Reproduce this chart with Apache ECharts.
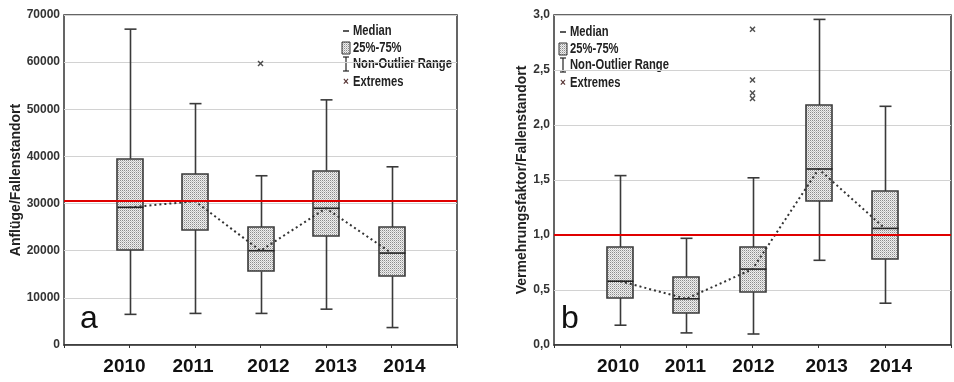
<!DOCTYPE html>
<html><head><meta charset="utf-8">
<script src="https://cdn.jsdelivr.net/npm/echarts@6/dist/echarts.min.js"></script>
<style>html,body{margin:0;padding:0;background:#fff}#c{width:954px;height:382px}</style>
</head><body><div id="c"></div>
<script>
// ---- data ----
const years = ['2010', '2011', '2012', '2013', '2014'];
// panel a: Anflüge/Fallenstandort
const aMin = [6500, 6700, 6700, 7600, 3700];
const aQ1  = [20200, 24400, 15600, 23100, 14600];
const aMed = [29200, 30500, 20000, 29000, 19500];
const aQ3  = [39500, 36200, 25000, 37000, 25000];
const aMax = [67000, 51200, 35900, 52000, 37800];
const aExtremes = [[2012, 59700]];
const aRef = 30700;
// panel b: Vermehrungsfaktor/Fallenstandort
const bMin = [0.18, 0.11, 0.10, 0.77, 0.38];
const bQ1  = [0.43, 0.29, 0.48, 1.31, 0.78];
const bMed = [0.58, 0.42, 0.69, 1.60, 1.06];
const bQ3  = [0.89, 0.62, 0.89, 2.18, 1.40];
const bMax = [1.54, 0.97, 1.52, 2.96, 2.17];
const bExtremes = [[2012, 2.87], [2012, 2.41], [2012, 2.29], [2012, 2.24]];
const bRef = 1.0;
const bTicks = ['0,0', '0,5', '1,0', '1,5', '2,0', '2,5', '3,0'];
const legendItems = ['Median', '25%-75%', 'Non-Outlier Range', 'Extremes'];
const panelLetters = ['a', 'b'];
const yNames = ['Anflüge/Fallenstandort', 'Vermehrungsfaktor/Fallenstandort'];

// ---- helpers ----
const cats = [''].concat(years, ['']);
const pat = document.createElement('canvas');
pat.width = 2; pat.height = 2;
(function(){const g = pat.getContext('2d');
  g.fillStyle = '#efefef'; g.fillRect(0,0,2,2);
  g.fillStyle = '#8c8c8c'; g.fillRect(0,0,1,1);
  g.fillStyle = '#c4c4c4'; g.fillRect(1,1,1,1);})();
const pattern = {image: pat, repeat: 'repeat'};

const SANS = "'Liberation Sans',Arial,sans-serif";

function boxData(mn, q1, md, q3, mx) {
  return years.map((y, i) => [i + 1, mn[i], q1[i], md[i], q3[i], mx[i]]);
}
function renderBox(params, api) {
  const x = api.value(0);
  const pMin = api.coord([x, api.value(1)]);
  const pQ1 = api.coord([x, api.value(2)]);
  const pMed = api.coord([x, api.value(3)]);
  const pQ3 = api.coord([x, api.value(4)]);
  const pMax = api.coord([x, api.value(5)]);
  const cx = Math.round(pMin[0]) + 0.5;
  const bw = 26, cw = 12;
  const ls = {stroke: '#3a3a3a', lineWidth: 1.6};
  return {type: 'group', children: [
    {type: 'line', shape: {x1: cx, y1: pMin[1], x2: cx, y2: pQ1[1]}, style: ls},
    {type: 'line', shape: {x1: cx, y1: pQ3[1], x2: cx, y2: pMax[1]}, style: ls},
    {type: 'line', shape: {x1: cx - cw/2, y1: pMin[1], x2: cx + cw/2, y2: pMin[1]}, style: ls},
    {type: 'line', shape: {x1: cx - cw/2, y1: pMax[1], x2: cx + cw/2, y2: pMax[1]}, style: ls},
    {type: 'rect', shape: {x: cx - bw/2 - 0.5, y: Math.round(pQ3[1]), width: bw, height: Math.round(pQ1[1]) - Math.round(pQ3[1])},
      style: {fill: pattern, stroke: '#3a3a3a', lineWidth: 1.6}},
    {type: 'line', shape: {x1: cx - bw/2, y1: pMed[1], x2: cx + bw/2, y2: pMed[1]}, style: {stroke: '#222', lineWidth: 1.6}}
  ]};
}
const starPath = 'path://M0,1L1,0L3,2L5,0L6,1L4,3L6,5L5,6L3,4L1,6L0,5L2,3Z';

function xAxisFor(gi, shifts) {
  const rich = {};
  shifts.forEach((s, i) => {
    rich['l' + i] = {fontFamily: SANS, fontWeight: 'bold', fontSize: 19, color: '#111',
      padding: s >= 0 ? [0, 0, 0, 2 * s] : [0, -2 * s, 0, 0]};
  });
  return {type: 'category', gridIndex: gi, data: cats, boundaryGap: false,
    axisLine: {show: true, lineStyle: {color: '#333', width: 1.5}},
    axisTick: {show: true, length: 3, lineStyle: {color: '#333'}},
    axisLabel: {margin: 12, interval: 0,
      formatter: (v, i) => v ? '{l' + i + '|' + v + '}' : '', rich: rich},
    splitLine: {show: false}};
}
function yAxisFor(gi, max, interval, fmt, name, gap) {
  return {type: 'value', gridIndex: gi, min: 0, max: max, interval: interval,
    name: name, nameLocation: 'middle', nameGap: gap, nameRotate: 90,
    nameTextStyle: {fontFamily: SANS, fontWeight: 'bold', fontSize: 14, color: '#222'},
    axisLine: {show: false}, axisTick: {show: false},
    axisLabel: {formatter: fmt, margin: 4, fontFamily: SANS, fontWeight: 'bold', fontSize: 12, color: '#333'},
    splitLine: {show: true, lineStyle: {color: '#d2d2d2', width: 1.2}}};
}
function refLine(v) {
  return {silent: true, symbol: 'none', label: {show: false},
    lineStyle: {color: '#e00000', width: 2, type: 'solid'}, data: [{yAxis: v}]};
}
function legendGraphic(x0, y0) {
  const dy = [0, 17, 33, 51];
  const els = [];
  const tx = x0 + 10;
  legendItems.forEach((t, i) => {
    els.push({type: 'text', x: tx, y: y0 + dy[i], scaleX: 0.8,
      style: {text: t, fontFamily: SANS, fontSize: 14, fontWeight: 'bold', fill: '#222', verticalAlign: 'middle'}});
  });
  const ic = x0 + 3;
  els.push({type: 'line', shape: {x1: ic - 3, y1: y0 + dy[0], x2: ic + 3, y2: y0 + dy[0]}, style: {stroke: '#222', lineWidth: 1.5}});
  els.push({type: 'rect', shape: {x: ic - 4, y: y0 + dy[1] - 6, width: 8, height: 12}, style: {fill: pattern, stroke: '#333', lineWidth: 1}});
  els.push({type: 'line', shape: {x1: ic, y1: y0 + dy[2] - 7, x2: ic, y2: y0 + dy[2] + 7}, style: {stroke: '#222', lineWidth: 1.2}});
  els.push({type: 'line', shape: {x1: ic - 3, y1: y0 + dy[2] - 7, x2: ic + 3, y2: y0 + dy[2] - 7}, style: {stroke: '#222', lineWidth: 1.2}});
  els.push({type: 'line', shape: {x1: ic - 3, y1: y0 + dy[2] + 7, x2: ic + 3, y2: y0 + dy[2] + 7}, style: {stroke: '#222', lineWidth: 1.2}});
  els.push({type: 'text', x: ic, y: y0 + dy[3], style: {text: '×', fontSize: 10, fontWeight: 'bold', fill: '#533', fontFamily: SANS, align: 'center', verticalAlign: 'middle'}});
  return els;
}

const chart = echarts.init(document.getElementById('c'), null, {renderer: 'canvas'});
const option = {
  animation: false,
  backgroundColor: '#fff',
  grid: [
    {left: 64, top: 15, right: 497, bottom: 37, show: true, borderColor: '#333', borderWidth: 1.5, backgroundColor: 'transparent'},
    {left: 554, top: 15, right: -10, bottom: 37, show: true, borderColor: '#333', borderWidth: 1.5, backgroundColor: 'transparent'}
  ],
  xAxis: [xAxisFor(0, [0, -5, -2, 8, 10, 13, 0]), xAxisFor(1, [0, -2, -1, 1, 8, 6, 0])],
  yAxis: [
    yAxisFor(0, 70000, 10000, v => String(v), yNames[0], 37),
    yAxisFor(1, 3, 0.5, v => bTicks[Math.round(v / 0.5)], yNames[1], 24)
  ],
  graphic: [
    {type: 'text', left: 80, top: 303, style: {text: panelLetters[0], fontFamily: SANS, fontSize: 32, fill: '#111'}},
    {type: 'text', left: 561, top: 303, style: {text: panelLetters[1], fontFamily: SANS, fontSize: 32, fill: '#111'}}
  ].concat(legendGraphic(343, 31), legendGraphic(560, 32)),
  series: [
    {type: 'custom', xAxisIndex: 0, yAxisIndex: 0, renderItem: renderBox, data: boxData(aMin, aQ1, aMed, aQ3, aMax), z: 3,
      markLine: refLine(aRef)},
    {type: 'line', xAxisIndex: 0, yAxisIndex: 0, data: aMed.map((v, i) => [i + 1, v]), symbol: 'none', z: 4,
      lineStyle: {color: '#333', width: 2, type: [2, 3]}},
    {type: 'scatter', xAxisIndex: 0, yAxisIndex: 0, symbol: starPath, symbolSize: 6, itemStyle: {color: '#222'}, z: 5,
      data: aExtremes.map(d => [years.indexOf(String(d[0])) + 1, d[1]])},
    {type: 'custom', xAxisIndex: 1, yAxisIndex: 1, renderItem: renderBox, data: boxData(bMin, bQ1, bMed, bQ3, bMax), z: 3,
      markLine: refLine(bRef)},
    {type: 'line', xAxisIndex: 1, yAxisIndex: 1, data: bMed.map((v, i) => [i + 1, v]), symbol: 'none', z: 4,
      lineStyle: {color: '#333', width: 2, type: [2, 3]}},
    {type: 'scatter', xAxisIndex: 1, yAxisIndex: 1, symbol: starPath, symbolSize: 6, itemStyle: {color: '#222'}, z: 5,
      data: bExtremes.map(d => [years.indexOf(String(d[0])) + 1, d[1]])}
  ]
};
chart.setOption(option);
</script>
</body></html>
